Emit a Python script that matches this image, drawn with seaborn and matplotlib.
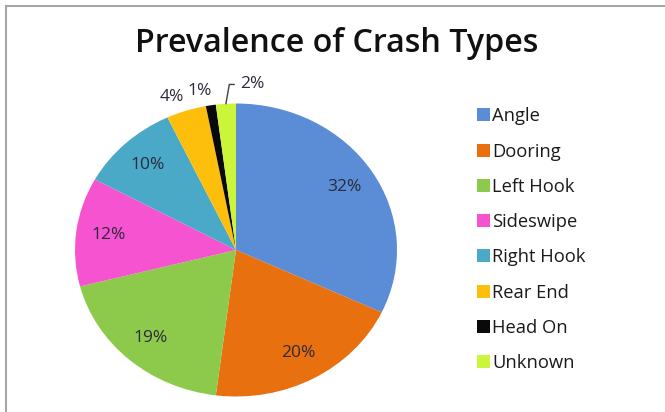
import numpy as np
import matplotlib
matplotlib.use("Agg")
import matplotlib.pyplot as plt
import seaborn as sns
from matplotlib.patches import Rectangle

sns.set_theme(style="white")
plt.rcParams['font.family'] = ['Open Sans', 'DejaVu Sans']

categories = ["Angle", "Dooring", "Left Hook", "Sideswipe", "Right Hook", "Rear End", "Head On", "Unknown"]
values = [32, 20, 19, 12, 10, 4, 1, 2]
pct_labels = ["32%", "20%", "19%", "12%", "10%", "4%", "1%", "2%"]
colors = ["#5A8DD5", "#E8700E", "#8DC94A", "#F553CF", "#4AA9C6", "#FDBE0C", "#0A0A0A", "#CCF53A"]

W, H = 665, 412
fig = plt.figure(figsize=(W / 100, H / 100), dpi=100)
fig.patch.set_facecolor("white")

# frame
fig.add_artist(Rectangle((6 / W, -0.1), 1.1, (H - 6) / H + 0.1, transform=fig.transFigure,
                         fill=False, edgecolor="#a6a6a6", linewidth=1.5))

cx, cy, rx, ry = 236, 250, 161, 146.5
ax = fig.add_axes([(cx - rx) / W, (H - cy - ry) / H, 2 * rx / W, 2 * ry / H])
wedges, _ = ax.pie(values, colors=colors, startangle=90, counterclock=False,
                   wedgeprops=dict(linewidth=0))
ax.set_aspect('auto')
ax.set_xlim(-1, 1)
ax.set_ylim(-1, 1)
ax.axis('off')

label_color = "#2b2b3b"
for i, (w, lab) in enumerate(zip(wedges, pct_labels)):
    th = np.deg2rad((w.theta1 + w.theta2) / 2)
    if values[i] >= 10:
        r = 0.8
        ax.text(r * np.cos(th), r * np.sin(th), lab, ha='center', va='center',
                fontsize=12.5, color=label_color, clip_on=False)
    elif lab == "2%":
        ax.annotate(lab, xy=(np.cos(th), np.sin(th)), xytext=(np.cos(th) + 0.09, 1.13),
                    ha='left', va='center', fontsize=12.5, color=label_color,
                    arrowprops=dict(arrowstyle='-', color='#404040', lw=1,
                                    connectionstyle='angle,angleA=0,angleB=80,rad=0',
                                    shrinkA=2, shrinkB=0))
    else:
        r = 1.13
        ax.text(r * np.cos(th) - 0.05, r * np.sin(th) - 0.03, lab, ha='center', va='center',
                fontsize=12.5, color=label_color, clip_on=False)

fig.text(337 / W, 1 - 43 / H, "Prevalence of Crash Types", ha='center', va='center',
         fontsize=23.2, fontweight='semibold', color='#111111')

leg = fig.legend(wedges, categories, loc='upper left', bbox_to_anchor=(470 / W, 1 - 100 / H),
                 frameon=False, fontsize=13.2, handlelength=0.7, handleheight=0.7,
                 handletextpad=0.1, labelspacing=0.94, borderaxespad=0)
for t in leg.get_texts():
    t.set_color('#1a1a1a')

fig.savefig("out.png", dpi=100, facecolor="white")
